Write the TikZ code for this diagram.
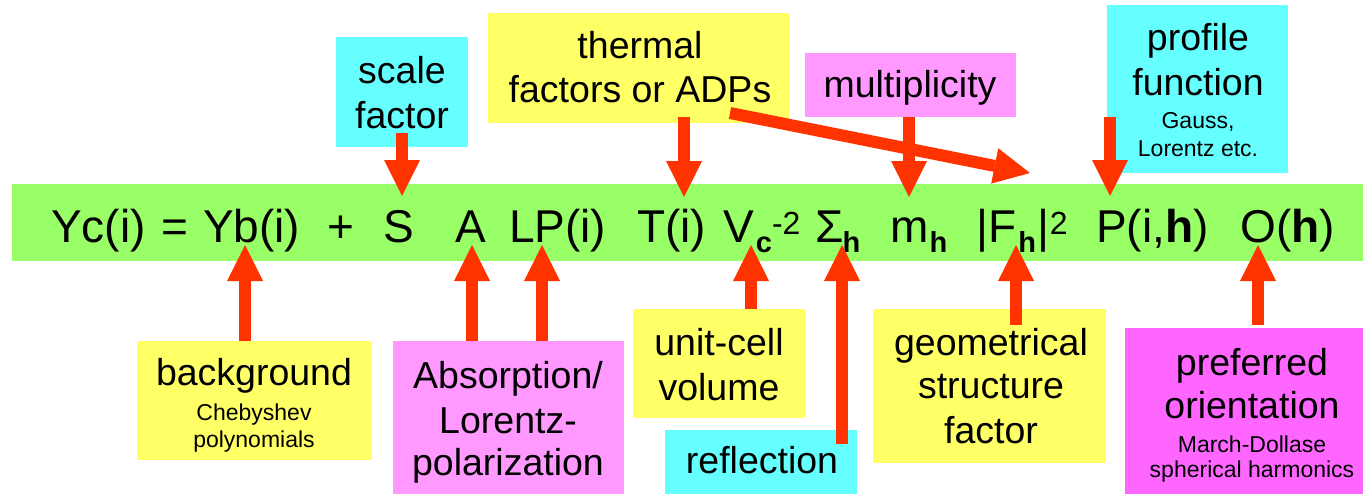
\documentclass[tikz,border=0pt]{standalone}
\usepackage{fontspec}
\setmainfont{Liberation Sans}
\usetikzlibrary{arrows.meta,calc}
\definecolor{stripgreen}{HTML}{99FF66}
\definecolor{boxyellow}{HTML}{FFFF66}
\definecolor{boxcyan}{HTML}{66FFFF}
\definecolor{boxpink}{HTML}{FF99FF}
\definecolor{boxmagenta}{HTML}{FF66FF}
\definecolor{arrowred}{HTML}{FF3300}
\newcommand\eqsub[1]{\raisebox{-10pt}{\fontsize{29}{29}\selectfont\bfseries #1}}
\newcommand\eqsup[1]{\raisebox{8pt}{\fontsize{32}{32}\selectfont #1}}
\begin{document}
\begin{tikzpicture}[x=1pt,y=-1pt,
  box/.style={rectangle, draw=none, inner sep=0pt, outer sep=0pt},
  lbl/.style={inner sep=0pt, anchor=base, font=\fontsize{37.5}{44}\selectfont},
  small/.style={inner sep=0pt, anchor=base, font=\fontsize{23}{27}\selectfont},
  eq/.style={inner sep=0pt, anchor=base west, font=\fontsize{46}{50}\selectfont},
  bigarrow/.style={draw=arrowred, line width=12pt, -{Triangle[width=36pt,length=36pt,line width=0pt]}}
]
\useasboundingbox (0,0) rectangle (1363,493);

% equation strip
\node[box, fill=stripgreen, minimum width=1358pt, minimum height=77pt] (strip) at (691,222.5) {};

% boxes
\node[box, fill=boxcyan, minimum width=132pt, minimum height=110pt] (scalebox) at (402,92) {};
\node[box, fill=boxyellow, minimum width=301pt, minimum height=110pt] (thermbox) at (638.5,68) {};
\node[box, fill=boxpink, minimum width=211pt, minimum height=64pt] (multbox) at (910.5,85) {};
\node[box, fill=boxcyan, minimum width=181pt, minimum height=168pt] (profbox) at (1197.5,89) {};
\node[box, fill=boxyellow, minimum width=235pt, minimum height=119pt] (bgbox) at (254.5,400.5) {};
\node[box, fill=boxpink, minimum width=231pt, minimum height=154pt] (absbox) at (508.5,418) {};
\node[box, fill=boxyellow, minimum width=172pt, minimum height=109pt] (unitbox) at (719,363.5) {};
\node[box, fill=boxcyan, minimum width=192pt, minimum height=65pt] (reflbox) at (761,462.5) {};
\node[box, fill=boxyellow, minimum width=233pt, minimum height=154pt] (geombox) at (989.5,386) {};
\node[box, fill=boxmagenta, minimum width=255pt, minimum height=167pt] (prefbox) at (1252.5,411.5) {};

% box texts
\node[lbl] (scale1) at (402,83) {scale};
\node[lbl] (scale2) at (402,128) {factor};
\node[lbl] (therm1) at (640,58) {thermal};
\node[lbl] (therm2) at (640,102) {factors or ADPs};
\node[lbl] (mult1) at (910,97) {multiplicity};
\node[lbl] (prof1) at (1198,50) {profile};
\node[lbl] (prof2) at (1198,95) {function};
\node[small] (prof3) at (1198,128) {Gauss,};
\node[small] (prof4) at (1198,156) {Lorentz etc.};
\node[lbl] (bg1) at (254,385) {background};
\node[small] (bg2) at (254,420) {Chebyshev};
\node[small] (bg3) at (254,447) {polynomials};
\node[lbl] (abs1) at (508,388) {Absorption/};
\node[lbl] (abs2) at (508,433) {Lorentz-};
\node[lbl] (abs3) at (508,475) {polarization};
\node[lbl] (unit1) at (719,355) {unit-cell};
\node[lbl] (unit2) at (719,400) {volume};
\node[lbl] (refl1) at (762,473) {reflection};
\node[lbl] (geom1) at (991,355) {geometrical};
\node[lbl] (geom2) at (991,398) {structure};
\node[lbl] (geom3) at (991,443) {factor};
\node[lbl] (pref1) at (1252,375) {preferred};
\node[lbl] (pref2) at (1252,418) {orientation};
\node[small] (pref3) at (1252,452) {March-Dollase};
\node[small] (pref4) at (1252,477) {spherical harmonics};

% equation
\node[eq] (eYc) at (51,242) {Yc(i)};
\node[eq] (eEq) at (161,242) {=};
\node[eq] (eYb) at (203,242) {Yb(i)};
\node[eq] (ePl) at (327,242) {+};
\node[eq] (eS) at (383,242) {S};
\node[eq] (eA) at (455,242) {A};
\node[eq] (eLP) at (509,242) {LP(i)};
\node[eq] (eT) at (637,242) {T(i)};
\node[eq] (eV) at (723,242) {V\kern2pt\eqsub{c}\eqsup{-2}};
\node[eq] (eSig) at (815,242) {Σ\kern-1pt\eqsub{h}};
\node[eq] (eM) at (890,242) {m\kern1pt\eqsub{h}};
\node[eq] (eF) at (976,242) {|F\kern2pt\eqsub{h}\kern2pt|\eqsup{2}};
\node[eq] (eP) at (1096,242) {P(i,\textbf{h})};
\node[eq] (eO) at (1240,242) {O(\textbf{h})};

% arrow tips
\coordinate (tS) at (402,196);
\coordinate (tT) at (684,197);
\coordinate (tM) at (909,197);
\coordinate (tD) at (1030,173);
\coordinate (tP) at (1110,196);
\coordinate (tB) at (245,245);
\coordinate (tA) at (472,245);
\coordinate (tL) at (542,245);
\coordinate (tV) at (751,245);
\coordinate (tSig) at (842,245);
\coordinate (tF) at (1016,245);
\coordinate (tO) at (1258,245);
\coordinate (sD) at (730,113);

% arrows
\draw[bigarrow] ($(scalebox.south -| tS)+(0,-14)$) -- (tS);
\draw[bigarrow] ($(thermbox.south -| tT)+(0,-6)$) -- (tT);
\draw[bigarrow] (multbox.south -| tM) -- (tM);
\draw[bigarrow] (sD) -- (tD);
\draw[bigarrow] ($(profbox.south -| tP)+(0,-56)$) -- (tP);
\draw[bigarrow] (bgbox.north -| tB) -- (tB);
\draw[bigarrow] (absbox.north -| tA) -- (tA);
\draw[bigarrow] (absbox.north -| tL) -- (tL);
\draw[bigarrow] (unitbox.north -| tV) -- (tV);
\draw[bigarrow] ($(reflbox.north -| tSig)+(0,14)$) -- (tSig);
\draw[bigarrow] ($(geombox.north -| tF)+(0,16)$) -- (tF);
\draw[bigarrow] ($(prefbox.north -| tO)+(0,-3)$) -- (tO);
\end{tikzpicture}
\end{document}
